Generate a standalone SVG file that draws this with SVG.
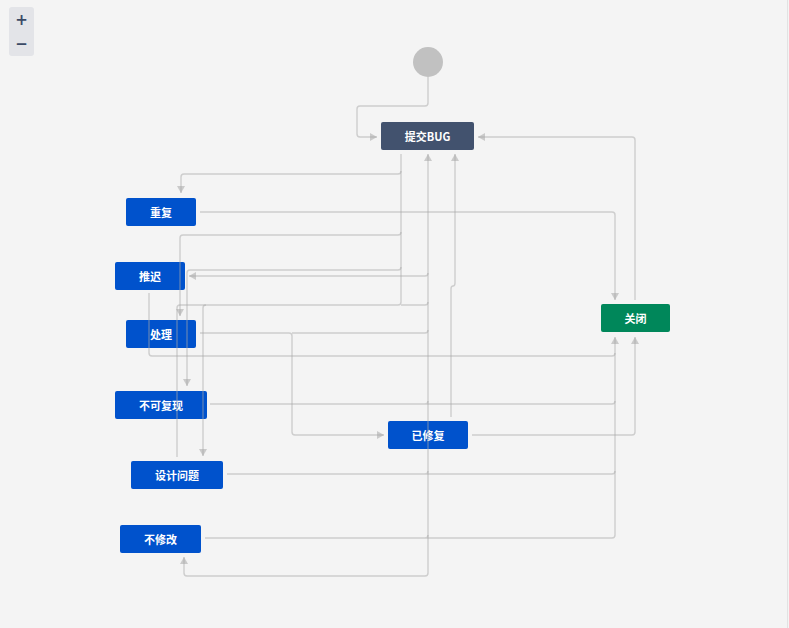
<svg xmlns="http://www.w3.org/2000/svg" width="789" height="628" viewBox="0 0 789 628">
<style>
.n rect{fill:#0052cc}
.n text{fill:#fff;font-family:"Noto Sans CJK SC","Noto Sans",sans-serif;font-size:11px;font-weight:bold;text-anchor:middle;dominant-baseline:central}
#connectors path{fill:none;stroke:#a8a8a8;stroke-opacity:.5;stroke-width:1.4}
#connectors path.a{marker-end:url(#ah)}
.zc{fill:#3b4a66;font-family:"DejaVu Sans",sans-serif;font-size:15px;font-weight:bold;text-anchor:middle;dominant-baseline:central}
</style>
<defs>
<marker id="ah" markerWidth="8" markerHeight="8" refX="7" refY="4" orient="auto" markerUnits="userSpaceOnUse"><path d="M0,0 L7,4 L0,8 Z" fill="#a8a8a8" fill-opacity=".55"/></marker>
</defs>
<rect width="789" height="628" fill="#f4f4f4"/>
<line x1="787.5" y1="0" x2="787.5" y2="628" stroke="#e2e2e2"/>
<g id="zoom-controls">
<rect x="9" y="7" width="25" height="49" rx="3" fill="#e3e4e8"/>
<text class="zc" x="21.5" y="20">+</text>
<text class="zc" x="21.5" y="44">−</text>
</g>
<g id="start"><circle cx="428" cy="62" r="15" fill="#c1c1c1"/></g>
<g id="n-submit" class="n"><rect x="381" y="122" width="93" height="28" rx="2" style="fill:#42526e"/><text x="427.5" y="135.5">提交BUG</text></g>
<g id="n-dup" class="n"><rect x="126" y="198" width="70" height="28" rx="2"/><text x="161" y="211.5">重复</text></g>
<g id="n-defer" class="n"><rect x="115" y="262" width="70" height="28" rx="2"/><text x="150" y="275.5">推迟</text></g>
<g id="n-handle" class="n"><rect x="126" y="320" width="70" height="28" rx="2"/><text x="161" y="333.5">处理</text></g>
<g id="n-norepro" class="n"><rect x="115" y="391" width="92" height="28" rx="2"/><text x="161" y="404.5">不可复现</text></g>
<g id="n-fixed" class="n"><rect x="388" y="421" width="80" height="28" rx="2"/><text x="428" y="434.5">已修复</text></g>
<g id="n-design" class="n"><rect x="131" y="461" width="92" height="28" rx="2"/><text x="177" y="474.5">设计问题</text></g>
<g id="n-wontfix" class="n"><rect x="120" y="525" width="81" height="28" rx="2"/><text x="160.5" y="538.5">不修改</text></g>
<g id="n-closed" class="n"><rect x="601" y="304" width="69" height="28" rx="2" style="fill:#00875a"/><text x="635.5" y="317.5">关闭</text></g>
<g id="connectors">
<path class="a" d="M428,77 V103 Q428,106 425,106 H360 Q357,106 357,109 V134 Q357,137 360,137 H377"/>
<path d="M401,154 V302 Q401,305 398,305 H180 Q177,305 177,308 V457"/>
<path class="a" d="M401,171 Q401,174 398,174 H184 Q181,174 181,177 V193"/>
<path class="a" d="M401,232 Q401,235 398,235 H183 Q180,235 180,238 V316"/>
<path class="a" d="M401,267 Q401,270 398,270 H190 Q187,270 187,273 V386"/>
<path class="a" d="M428,573 V154"/>
<path class="a" d="M428,573 Q428,576 425,576 H187 Q184,576 184,573 V557"/>
<path class="a" d="M428,273 Q428,276 425,276 H189"/>
<path class="a" d="M428,302 Q428,305 425,305 H401 M206,305 Q203,305 203,308 V456"/>
<path class="a" d="M200,333 H289 Q292,333 292,336 V432 Q292,435 295,435 H384"/>
<path d="M292,333 H425 Q428,333 428,330"/>
<path class="a" d="M451,417 V289 Q451,286 453,286 Q455,286 455,283 V154"/>
<path class="a" d="M472,435 H632 Q635,435 635,432 V337"/>
<path class="a" d="M635,300 V140 Q635,137 632,137 H478"/>
<path class="a" d="M200,212 H612 Q615,212 615,215 V300"/>
<path class="a" d="M615,535 V337"/>
<path d="M149,293 V353 Q149,356 152,356 H612 Q615,356 615,353"/>
<path d="M210,404 H612 Q615,404 615,401 M425,404 Q428,404 428,401"/>
<path d="M227,474 H612 Q615,474 615,471 M425,474 Q428,474 428,471"/>
<path d="M205,538 H612 Q615,538 615,535 M425,538 Q428,538 428,535"/>
</g>
</svg>
